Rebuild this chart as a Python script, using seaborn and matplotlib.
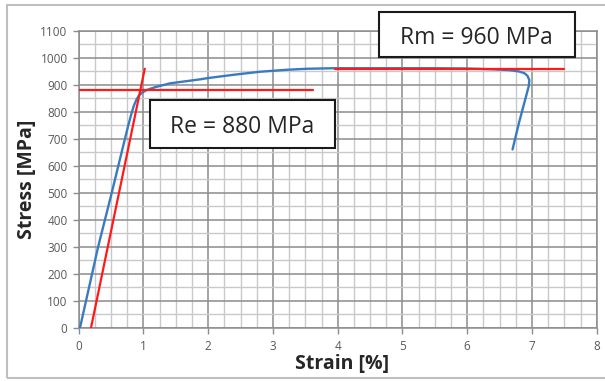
import matplotlib
matplotlib.use("Agg")
import matplotlib.pyplot as plt
import seaborn as sns
import pandas as pd
from matplotlib.patches import Rectangle
from matplotlib.ticker import MultipleLocator

# Measured tensile test curve: strain [%] vs stress [MPa]
strain = [0.02, 0.30, 0.51, 0.64, 0.76, 0.81, 0.85, 0.89, 0.93, 0.98, 1.05,
          1.12, 1.20, 1.41, 1.88, 1.98, 2.40, 2.80, 3.20, 3.52, 3.93, 4.50,
          5.50, 6.00, 6.40, 6.65, 6.80, 6.88, 6.93, 6.96, 6.95, 6.90, 6.80,
          6.70]
stress = [0, 300, 500, 628, 745, 790, 822, 845, 861, 872, 881,
          887, 893, 906, 921, 925, 938, 949, 956, 960, 962, 962,
          962, 961, 958, 955, 950, 944, 934, 918, 895, 850, 760,
          661]

# 0.2 % offset line used to find the yield point
offset_strain = [0.19, 1.02]
offset_stress = [0, 960]

# Yield strength and tensile strength markers
re_value = 880
rm_value = 960
re_span = [0.0, 3.62]
rm_span = [3.96, 7.5]

x_ticks = list(range(0, 9))
y_ticks = list(range(0, 1101, 100))

curve = pd.DataFrame({"strain": strain, "stress": stress})

sns.set_theme(style="white")
plt.rcParams["font.family"] = ["Open Sans", "DejaVu Sans"]

fig = plt.figure(figsize=(6.05, 3.81), dpi=100)
ax = fig.add_axes([0.1301, 0.1399, 0.8562, 0.7787])

major_col = "#8c8c8c"
minor_col = "#c9c9c9"
blue = "#3a7bbf"
red = "#ff1a1a"

sns.lineplot(data=curve, x="strain", y="stress", sort=False, estimator=None,
             color=blue, lw=1.7, ax=ax, zorder=3)
sns.lineplot(x=offset_strain, y=offset_stress, sort=False, estimator=None,
             color=red, lw=1.6, ax=ax, zorder=4)
sns.lineplot(x=re_span, y=[re_value] * 2, sort=False, estimator=None,
             color=red, lw=1.6, ax=ax, zorder=4)
sns.lineplot(x=rm_span, y=[rm_value] * 2, sort=False, estimator=None,
             color=red, lw=1.6, ax=ax, zorder=4)

ax.set_xlim(0, 8)
ax.set_ylim(0, 1100)
ax.set_xticks(x_ticks)
ax.set_yticks(y_ticks)
ax.xaxis.set_minor_locator(MultipleLocator(0.25))
ax.yaxis.set_minor_locator(MultipleLocator(50))
ax.set_axisbelow(True)
ax.grid(which="minor", color=minor_col, lw=1.0)
ax.grid(which="major", color=major_col, lw=1.1)
for sp in ax.spines.values():
    sp.set_color(major_col)
    sp.set_linewidth(1.1)

ax.tick_params(which="major", direction="out", length=4, width=1.0,
               color=major_col, labelcolor="#595959", labelsize=8.5)
ax.tick_params(axis="y", pad=4, left=True)
ax.tick_params(axis="x", pad=5, bottom=True)
ax.tick_params(which="minor", length=0)

ax.set_xlabel("Strain [%]", fontsize=14, fontweight="bold", color="#262626",
              va="center")
ax.set_ylabel("Stress [MPa]", fontsize=14, fontweight="bold", color="#262626",
              va="center")
ax.xaxis.set_label_coords(0.508, -0.122)
ax.yaxis.set_label_coords(-0.099, 0.5)

# Annotation boxes
boxes = [
    ((1.10, 665), 2.86, 179, f"Re = {re_value} MPa"),
    ((4.63, 1003), 3.03, 166, f"Rm = {rm_value} MPa"),
]
for (x0, y0), w, h, label in boxes:
    ax.add_patch(Rectangle((x0, y0), w, h, facecolor="white", edgecolor="#1a1a1a",
                           lw=1.5, zorder=6, clip_on=False))
    ax.text(x0 + w / 2, y0 + h / 2, label, ha="center", va="center_baseline",
            fontsize=16.5, color="#262626", zorder=7, clip_on=False)

# Outer chart border
fig.patches.append(Rectangle((7 / 605, 3 / 381), 1.0, 0.979,
                             transform=fig.transFigure, fill=False,
                             ec="#bfbfbf", lw=1.5))

fig.savefig("out.png", dpi=100)
